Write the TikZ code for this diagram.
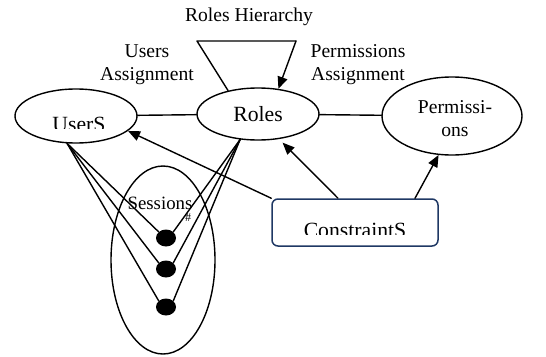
\documentclass[tikz,border=0pt]{standalone}
\usepackage{fontspec}
\setmainfont{Liberation Serif}
\usetikzlibrary{shapes.geometric,arrows.meta}

\definecolor{boxblue}{RGB}{31,56,100}

\tikzset{
  ln/.style={line width=1.4pt, line cap=round, line join=round},
  arr/.style={ln, -{Triangle[length=12pt,width=10pt]}},
  oval/.style={ellipse, draw, line width=1.4pt, inner sep=0pt},
  dot/.style={ellipse, fill=black, inner sep=0pt, minimum width=20pt, minimum height=17pt},
  lbl/.style={font=\fontsize{19.6}{23}\selectfont, align=center, inner sep=0pt},
  big/.style={font=\fontsize{21.7}{25}\selectfont, inner sep=0pt}
}

\begin{document}
\begin{tikzpicture}[x=1pt,y=-1pt]
\useasboundingbox (0,0) rectangle (546,356);

% the three entity sets
\node[oval, minimum width=122pt, minimum height=54pt] (users) at (76,116) {};
\node[oval, minimum width=122pt, minimum height=52pt, big] (roles) at (258,114) {Roles};
\node[oval, minimum width=140pt, minimum height=78pt] (perms) at (452,116) {};
\node[lbl] (permtext) at (455,118.5) {Permissi-\\ons};

% user label, lower edge trimmed
\begin{scope}
  \clip (40,100) rectangle (115,128.5);
  \node[big, anchor=base] (usertext) at (79,131.6) {UserS};
\end{scope}

% sessions set with its members
\node[oval, minimum width=104pt, minimum height=188pt] (sessions) at (163,260) {};
\node[lbl, font=\fontsize{18.8}{22}\selectfont] (sesstext) at (160,203) {Sessions};
\node[inner sep=0pt, font=\fontsize{12}{14}\selectfont] (hash) at (188,217.5) {\#};
\node[dot] (s1) at (166,238) {};
\node[dot] (s2) at (166,269) {};
\node[dot] (s3) at (166,307) {};

% constraints box, lower edge of label trimmed
\node[draw=boxblue, line width=1.5pt, rounded corners=6pt, minimum width=166pt, minimum height=47pt, inner sep=0pt] (cons) at (355,222.5) {};
\begin{scope}
  \clip (300,205) rectangle (430,234.5);
  \node[big, anchor=base] (constext) at (355,237.7) {ConstraintS};
\end{scope}

% assignment labels
\node[lbl] (ua) at (147,64.5) {Users\\Assignment};
\node[lbl] (pa) at (358,64.5) {Permissions\\Assignment};
\node[lbl] (rh) at (249,17) {Roles Hierarchy};

% assignments
\draw[ln] (users) -- (roles);
\draw[ln] (roles) -- (perms);

% role hierarchy loop
\coordinate (tl) at (197,41);
\coordinate (tr) at (296,41);
\draw[ln] (roles.142) -- (tl) -- (tr);
\draw[arr] (tr) -- (roles.51);

% user-session and session-role links
\foreach \s in {s1,s2,s3} {
  \draw[ln] (users.-108) -- (\s.140);
  \draw[ln] (roles.-125) -- (\s.40);
}

% constraints on users, roles and permissions
\draw[arr] (cons.north west) -- (users.-16.5);
\draw[arr, shorten >=5pt] ([xshift=-17pt]cons.north) -- (roles.-50);
\draw[arr] ([xshift=60pt]cons.north) -- (perms.-109);
\end{tikzpicture}
\end{document}
